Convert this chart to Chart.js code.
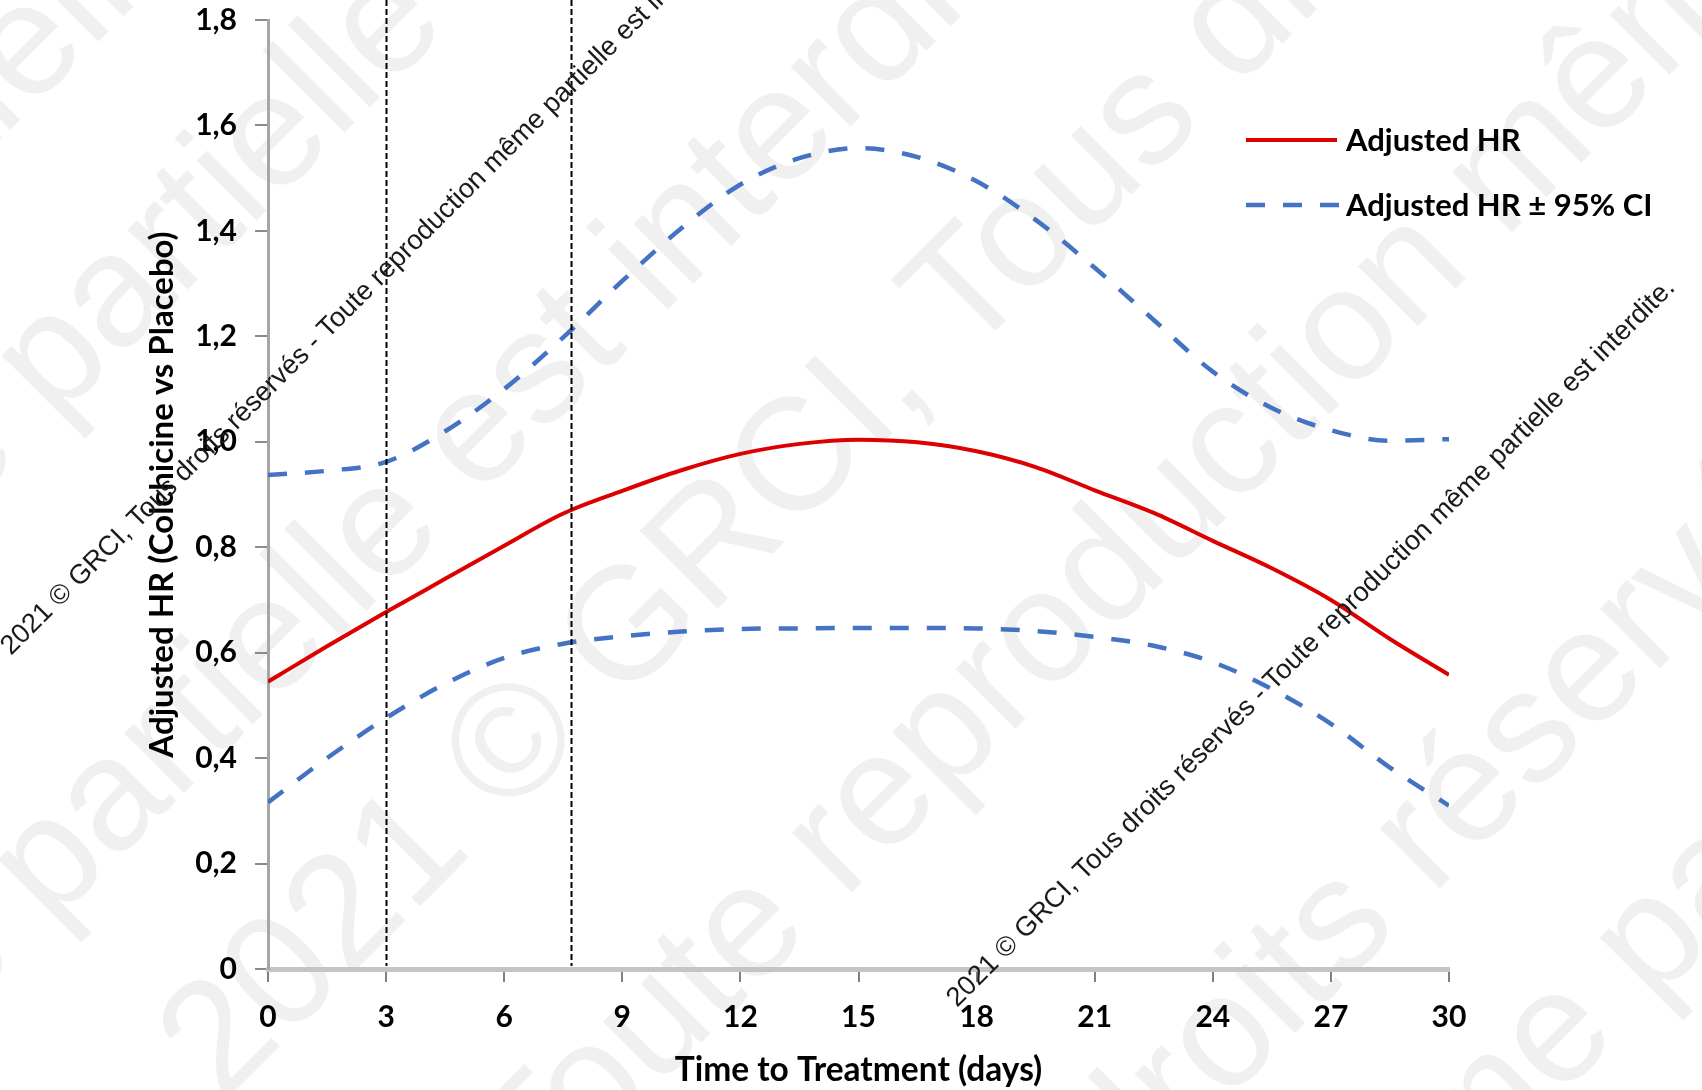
<!DOCTYPE html>
<html>
<head>
<meta charset="utf-8">
<script src="https://cdn.jsdelivr.net/npm/chart.js@4.4.1/dist/chart.umd.min.js"></script>
<style>
    html, body { margin: 0; padding: 0; background: #ffffff; }
    #wrap { width: 1702px; height: 1090px; }
</style>
</head>
<body>
<div id="wrap"><canvas id="hrChart" width="1702" height="1090"></canvas></div>
<script>

/* ==========================================================
   DATA
========================================================== */

const days       = [0, 1.5, 3, 4.5, 6, 7.5, 9, 10.5, 12, 13.5, 15, 16.5, 18, 19.5, 21, 22.5, 24, 25.5, 27, 28.5, 30];
const adjustedHR = [0.545, 0.612, 0.677, 0.740, 0.803, 0.864, 0.907, 0.946, 0.977, 0.996, 1.004, 0.999, 0.982, 0.952, 0.908, 0.865, 0.812, 0.760, 0.700, 0.626, 0.558];
const upperCI    = [0.937, 0.945, 0.962, 1.020, 1.100, 1.198, 1.305, 1.405, 1.488, 1.538, 1.557, 1.540, 1.494, 1.421, 1.330, 1.231, 1.133, 1.064, 1.022, 1.002, 1.005];
const lowerCI    = [0.316, 0.400, 0.476, 0.541, 0.590, 0.617, 0.631, 0.640, 0.645, 0.646, 0.647, 0.647, 0.646, 0.641, 0.630, 0.613, 0.582, 0.531, 0.465, 0.382, 0.310];

const markerDays   = [3, 7.7];
const seriesLabels = ["Adjusted HR", "Adjusted HR ± 95% CI"];
const xTitle       = "Time to Treatment (days)";
const yTitle       = "Adjusted HR (Colchicine vs Placebo)";
const noticeText   = "2021 © GRCI, Tous droits réservés - Toute reproduction même partielle est interdite.";

/* ==========================================================
   STYLE
========================================================== */

const RED  = "#dd0000";
const BLUE = "#4472c4";
const TXT  = "'Lato', 'Liberation Sans', sans-serif";
const SANS = "'Liberation Sans', Arial, sans-serif";

/* ==========================================================
   BIG WATERMARK (behind everything)
========================================================== */

const bigWatermark = {

    id: "bigWatermark",

    beforeDraw(chart) {

        const ctx = chart.ctx;
        const row = (noticeText + "  ").repeat(3);

        // [mot d'ancrage, x, y] : debut du mot sur la ligne de base
        const anchors = [
            ["elle", 28, 112],
            ["partielle", 54, 423],
            ["est", 478, 499],
            ["Tous", 966, 360],
            ["reproduction", 844, 900],
            ["réservés", 1432, 896],
            ["partielle", 1652, 1005]
        ];

        ctx.save();
        ctx.font = "160px " + SANS;
        ctx.fillStyle = "#f0f0f0";
        ctx.textBaseline = "alphabetic";

        anchors.forEach(([word, x, y]) => {
            const idx = row.indexOf(word, noticeText.length);
            const pre = ctx.measureText(row.slice(0, idx)).width;
            ctx.save();
            ctx.translate(x, y);
            ctx.rotate(-Math.PI / 4);
            ctx.fillText(row, -pre, 0);
            ctx.restore();
        });

        ctx.restore();
    }
};

/* ==========================================================
   VERTICAL MARKERS + LEGEND + SMALL NOTICE
========================================================== */

const overlays = {

    id: "overlays",

    afterDatasetsDraw(chart) {

        const ctx = chart.ctx;
        const xs = chart.scales.x;
        const bottom = chart.chartArea.bottom;

        ctx.save();
        ctx.strokeStyle = "#000000";
        ctx.lineWidth = 2;
        ctx.setLineDash([6, 3]);

        markerDays.forEach(d => {
            const px = Math.round(xs.getPixelForValue(d)) + 0.5;
            ctx.beginPath();
            ctx.moveTo(px, 0);
            ctx.lineTo(px, bottom - 3);
            ctx.stroke();
        });

        ctx.restore();
    },

    afterDraw(chart) {

        const ctx = chart.ctx;

        // Legend
        ctx.save();
        ctx.font = "bold 31px " + TXT;
        ctx.fillStyle = "#000000";
        ctx.textBaseline = "middle";

        ctx.strokeStyle = RED;
        ctx.lineWidth = 4;
        ctx.beginPath();
        ctx.moveTo(1246, 140);
        ctx.lineTo(1337, 140);
        ctx.stroke();
        ctx.fillText(seriesLabels[0], 1346, 141);

        ctx.strokeStyle = BLUE;
        ctx.lineWidth = 4.5;
        ctx.setLineDash([19, 18]);
        ctx.beginPath();
        ctx.moveTo(1246, 205);
        ctx.lineTo(1339, 205);
        ctx.stroke();
        ctx.fillText(seriesLabels[1], 1346, 206);
        ctx.restore();

        // Small notice, twice
        ctx.save();
        ctx.font = "27.3px " + SANS;
        ctx.fillStyle = "#1a1a1a";
        ctx.textBaseline = "alphabetic";

        [[11, 656], [957, 1008]].forEach(([x, y]) => {
            ctx.save();
            ctx.translate(x, y);
            ctx.rotate(-Math.PI / 4);
            ctx.fillText(noticeText, 0, 0);
            ctx.restore();
        });

        ctx.restore();
    }
};

/* ==========================================================
   CHART
========================================================== */

const toPoints = arr => days.map((d, i) => ({ x: d, y: arr[i] }));

const lineBase = {
    pointRadius: 0,
    fill: false,
    cubicInterpolationMode: "monotone"
};

new Chart(document.getElementById("hrChart"), {

    type: "line",

    data: {
        datasets: [
            {
                ...lineBase,
                label: seriesLabels[1],
                data: toPoints(upperCI),
                borderColor: BLUE,
                borderWidth: 4.5,
                borderDash: [19, 18]
            },
            {
                ...lineBase,
                label: seriesLabels[1],
                data: toPoints(lowerCI),
                borderColor: BLUE,
                borderWidth: 4.5,
                borderDash: [19, 18]
            },
            {
                ...lineBase,
                label: seriesLabels[0],
                data: toPoints(adjustedHR),
                borderColor: RED,
                borderWidth: 4
            }
        ]
    },

    options: {

        responsive: false,
        animation: false,

        layout: {
            padding: { left: 0, right: 253, top: 20, bottom: 0 }
        },

        plugins: {
            legend: { display: false },
            tooltip: { enabled: false }
        },

        scales: {

            x: {
                type: "linear",
                min: 0,
                max: 30,
                ticks: {
                    stepSize: 3,
                    padding: 17,
                    color: "#000000",
                    font: { family: TXT, size: 30, weight: "bold" }
                },
                grid: {
                    drawOnChartArea: false,
                    tickLength: 13,
                    color: "#808080",
                    lineWidth: 2
                },
                border: { color: "#c4c4c4", width: 5 },
                title: {
                    display: true,
                    text: xTitle,
                    color: "#000000",
                    font: { family: TXT, size: 33.5, weight: "bold" },
                    padding: { top: 0, bottom: 0 }
                },
                afterFit(scale) { scale.height = 121; }
            },

            y: {
                min: 0,
                max: 1.8,
                ticks: {
                    stepSize: 0.2,
                    padding: 18,
                    color: "#000000",
                    font: { family: TXT, size: 30, weight: "bold" },
                    callback: v => (Math.abs(v) < 1e-9 ? "0" : v.toFixed(1).replace(".", ","))
                },
                grid: {
                    drawOnChartArea: false,
                    tickLength: 13,
                    color: "#8c8c8c",
                    lineWidth: 2
                },
                border: { color: "#a6a6a6", width: 3 },
                title: {
                    display: true,
                    text: yTitle,
                    color: "#000000",
                    font: { family: TXT, size: 33, weight: "bold" },
                    padding: { top: 143, bottom: 0 }
                },
                afterFit(scale) {
                    scale.width = 268;
                    scale.paddingTop = 0;
                }
            }
        }
    },

    plugins: [bigWatermark, overlays]
});

</script>
</body>
</html>
